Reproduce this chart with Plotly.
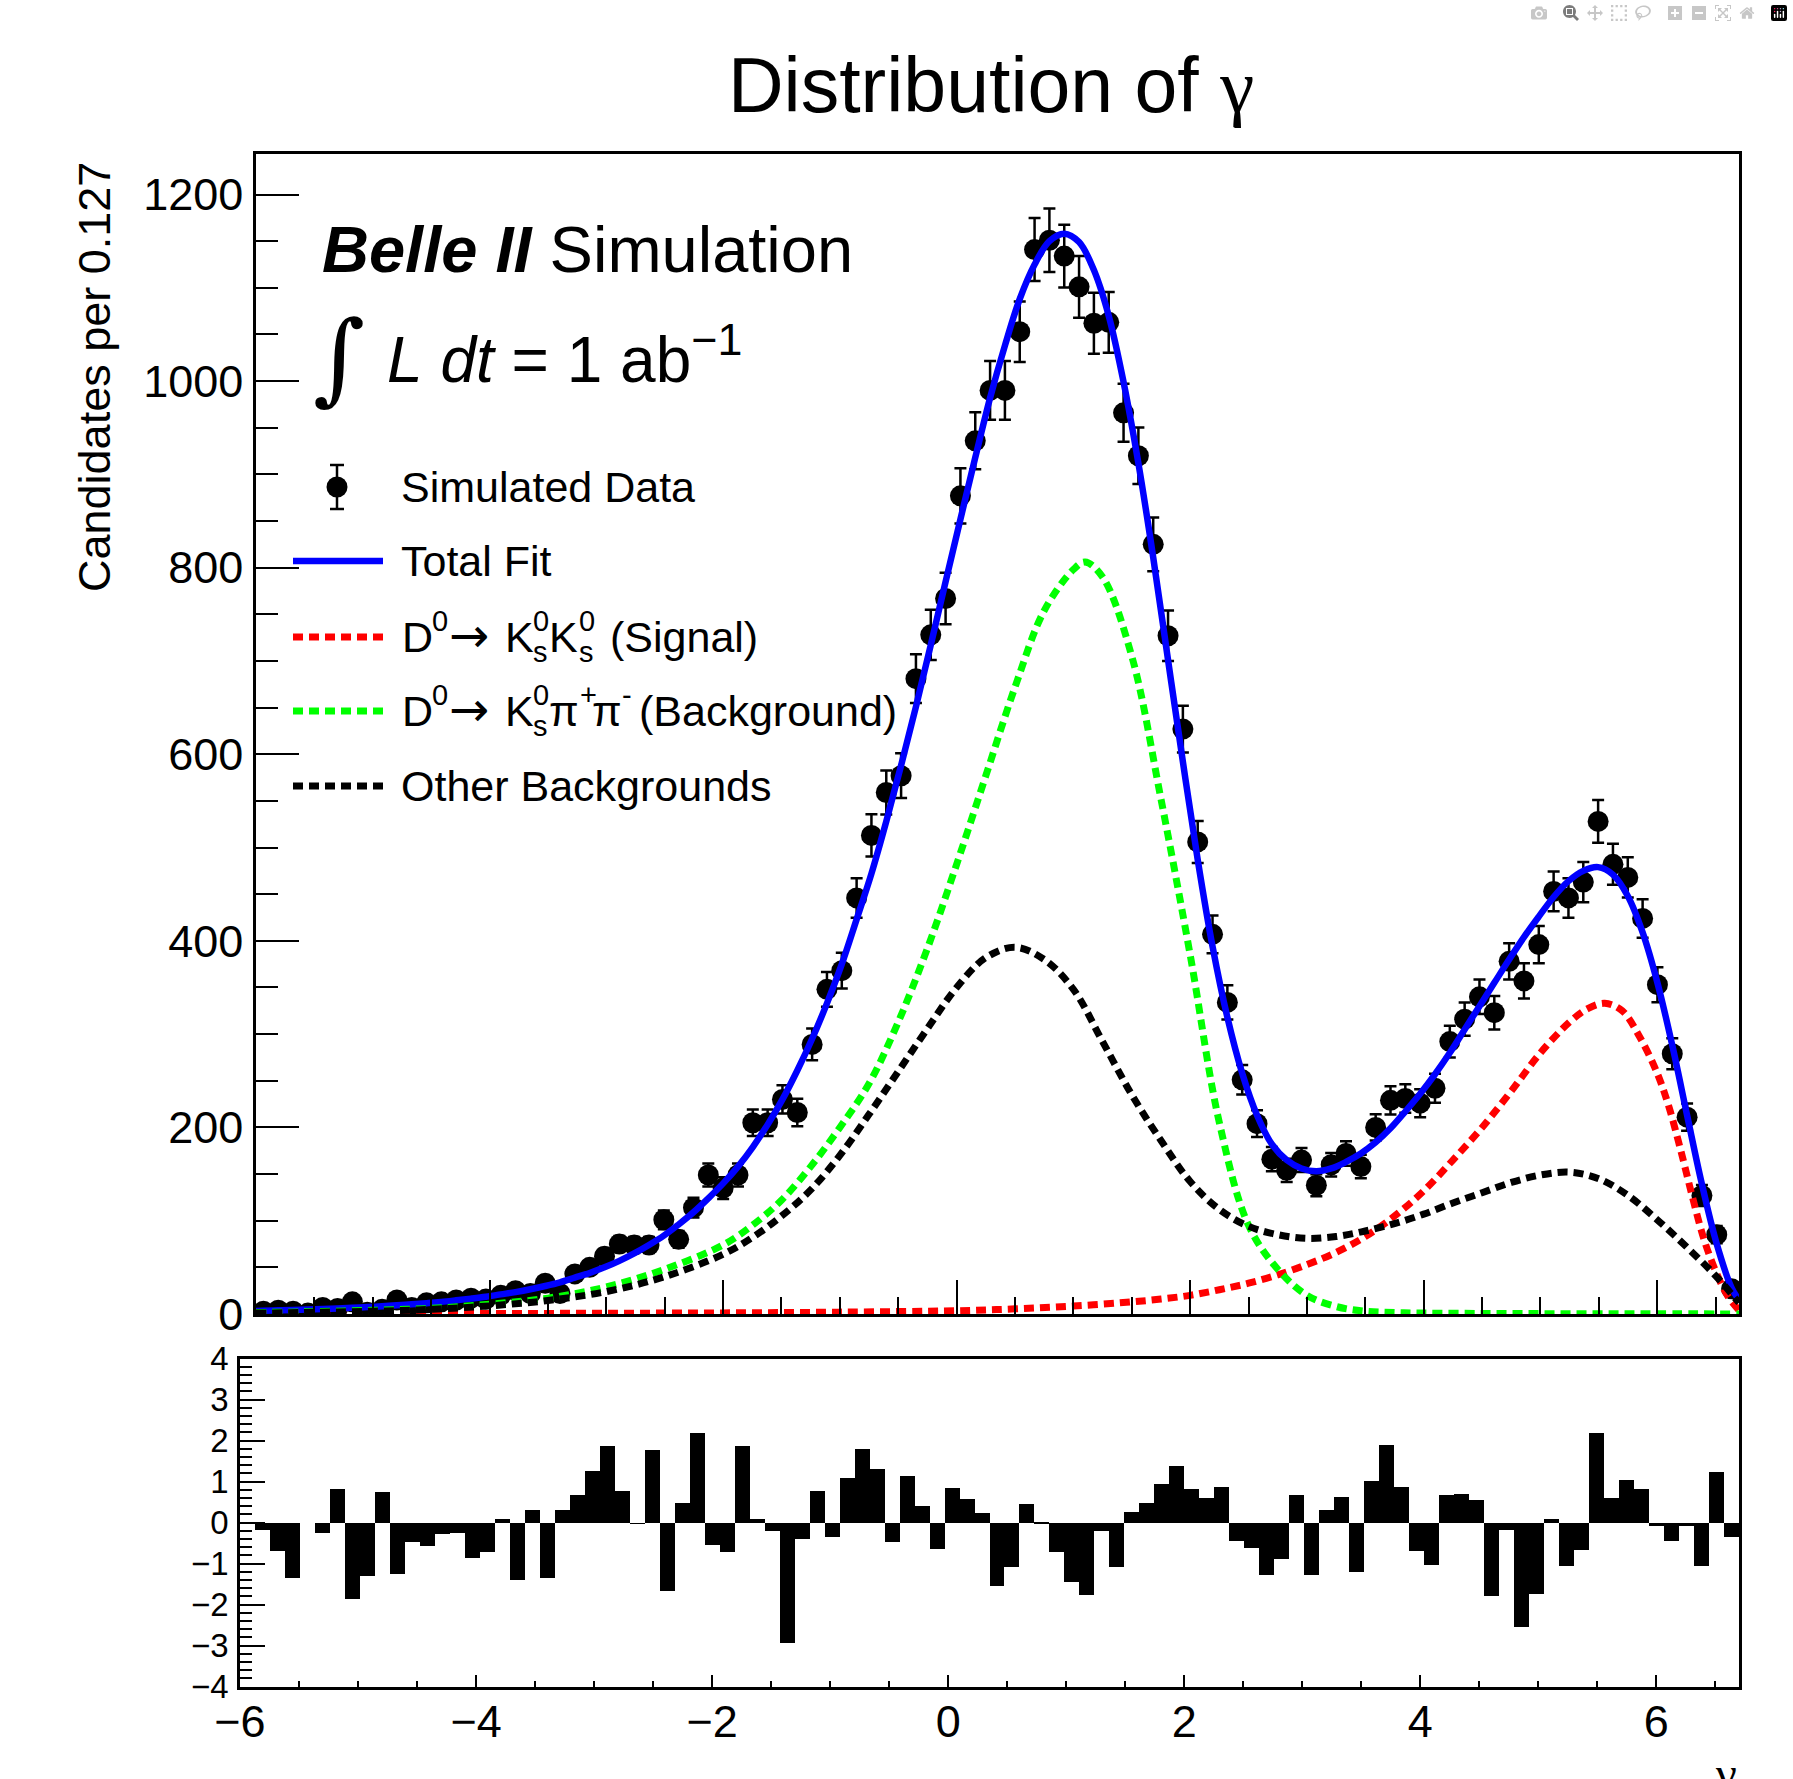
import numpy as np
import plotly.graph_objects as go

W, H = 1793, 1779
X_LO, X_HI = -6.0, 6.7
BIN_W = 0.127

# ---- data ----
data_counts = [3, 4, 3, 1, 7, 6, 13, 2, 5, 15,
               7, 12, 13, 15, 17, 16, 20, 25, 22, 33,
               22, 43, 50, 62, 75, 74, 74, 101, 80, 114,
               149, 135, 149, 205, 205, 230, 216, 289, 348, 368,
               446, 513, 559, 577, 681, 728, 767, 877, 936, 990,
               990, 1053, 1141, 1151, 1134, 1101, 1062, 1063, 966, 920,
               825, 727, 627, 506, 407, 334, 251, 204, 166, 154,
               165, 138, 160, 172, 158, 200, 229, 231, 226, 242,
               292, 316, 340, 323, 378, 357, 396, 453, 446, 463,
               528, 482, 468, 424, 353, 279, 211, 127, 85, 27]

pulls = [0.02, -0.18, -0.68, -1.34, 0.0, -0.23, 0.82, -1.86, -1.3, 0.75,
         -1.24, -0.45, -0.55, -0.26, -0.23, -0.86, -0.71, 0.1, -1.39, 0.31,
         -1.34, 0.33, 0.69, 1.28, 1.89, 0.78, -0.02, 1.78, -1.66, 0.5,
         2.19, -0.53, -0.71, 1.89, 0.09, -0.2, -2.92, -0.38, 0.78, -0.33,
         1.1, 1.8, 1.32, -0.47, 1.14, 0.42, -0.64, 0.86, 0.58, 0.25,
         -1.53, -1.08, 0.47, 0.02, -0.71, -1.44, -1.75, -0.2, -1.07, 0.27,
         0.5, 0.95, 1.38, 0.84, 0.62, 0.87, -0.44, -0.61, -1.26, -0.87,
         0.68, -1.26, 0.32, 0.63, -1.18, 1.03, 1.91, 0.87, -0.68, -1.02,
         0.68, 0.71, 0.57, -1.78, -0.17, -2.54, -1.73, 0.1, -1.04, -0.65,
         2.2, 0.6, 1.05, 0.83, -0.06, -0.44, -0.08, -1.05, 1.25, -0.33]

# total fit read at the left edge, every bin centre, and the right edge
total_fit = [3.3,
             3.5, 3.9, 4.3, 4.8, 5.3, 5.9, 6.6, 7.4, 8.3, 9.3,
             10.4, 11.6, 13, 14.7, 16.5, 18.5, 21, 23.5, 26.5, 30,
             34, 39, 44, 50, 57, 65, 74, 84, 96, 109,
             124, 140, 158, 179, 203, 230, 261, 295, 333, 375,
             423, 472, 528, 588, 651, 717, 785, 852, 918, 982,
             1038, 1088, 1125, 1150, 1158, 1149, 1119, 1070, 999, 912,
             811, 701, 592, 487, 394, 318, 258, 213, 182, 165,
             156, 153, 156, 163, 172, 184, 199, 217, 236, 257,
             280, 305, 330, 355, 380, 404, 426, 447, 464, 475,
             479, 471, 448, 409, 355, 288, 213, 139, 75, 28,
             15]

signal_x = [-6.0, -5.0, -4.0, -3.0, -2.0, -1.0, 0.0, 0.5, 1.0, 1.5, 1.75, 2.0, 2.25, 2.5,
            2.75, 3.0, 3.25, 3.5, 3.75, 4.0, 4.25, 4.5, 4.75, 5.0, 5.25, 5.4, 5.55, 5.7,
            5.85, 6.0, 6.1, 6.2, 6.3, 6.4, 6.5, 6.6, 6.7]
signal_y = [0.2, 0.3, 0.5, 0.8, 1.2, 2.0, 3.5, 5.5, 8.5, 13, 16, 20, 26, 33,
            42, 53, 66, 83, 105, 132, 165, 200, 239, 280, 313, 327, 333, 325,
            297, 258, 222, 176, 126, 80, 46, 20, 4]

kspipi_x = [-6.0, -5.5, -5.0, -4.5, -4.0, -3.5, -3.0, -2.5, -2.0, -1.75, -1.5, -1.25, -1.0,
            -0.75, -0.5, -0.25, 0.0, 0.25, 0.5, 0.75, 1.0, 1.1, 1.25, 1.5, 1.75, 2.0, 2.25,
            2.5, 2.75, 3.0, 3.25, 3.5, 3.75, 4.0, 4.5, 5.0, 5.5, 6.0, 6.7]
kspipi_y = [1.5, 2.5, 4, 6, 10.5, 17, 29, 48, 74, 95, 122, 158, 200,
            247, 313, 392, 482, 577, 672, 754, 798, 806, 790, 705, 552, 385, 205,
            95, 48, 20, 8, 3, 1.5, 1, 0.6, 0.4, 0.3, 0.2, 0.1]

other_x = [-6.0, -5.5, -5.0, -4.5, -4.0, -3.5, -3.0, -2.5, -2.0, -1.75, -1.5, -1.25, -1.0,
           -0.75, -0.5, -0.25, 0.0, 0.25, 0.5, 0.75, 1.0, 1.25, 1.5, 1.75, 2.0, 2.25, 2.5,
           2.75, 3.0, 3.25, 3.5, 3.75, 4.0, 4.25, 4.5, 4.75, 5.0, 5.25, 5.5, 5.75, 6.0,
           6.25, 6.5, 6.7]
other_y = [1, 1.8, 3, 5, 8.7, 14.5, 24, 40, 64, 82, 105, 133, 170,
           214, 260, 306, 350, 382, 393, 380, 348, 292, 235, 186, 142, 112, 94,
           85, 81, 83, 89, 97, 107, 119, 130, 141, 149, 152, 145, 127, 101,
           72, 41, 12]

label_data = "Simulated Data"
label_fit = "Total Fit"
label_other = "Other Backgrounds"
# legend labels with stacked sub/superscripts, written piece by piece:
# (text, kind) where kind: "n" normal, "p" superscript, "b" subscript, "a" arrow
label_signal = [("D", "n"), ("0", "p"), ("→", "a"), ("K", "n"), ("s", "b"), ("0", "p"),
                ("K", "n"), ("s", "b"), ("0", "p"), ("(Signal)", "n")]
label_kspipi = [("D", "n"), ("0", "p"), ("→", "a"), ("K", "n"), ("s", "b"), ("0", "p"),
                ("π", "n"), ("+", "p"), ("π", "n"), ("-", "p"), ("(Background)", "n")]
# left edges (px) of the pieces above, as they sit in the picture
signal_piece_x = [400, 430, 447, 503, 531, 531, 547, 577, 577, 608]
kspipi_piece_x = [400, 430, 447, 503, 531, 531, 547, 578, 590, 620, 637]

# ---- derived bin geometry ----
centers = X_LO + BIN_W * (np.arange(len(data_counts)) + 0.5)
fit_x = np.concatenate([[X_LO], centers, [X_HI]])
counts = np.array(data_counts, dtype=float)
errs = np.sqrt(counts)

FONT = "Liberation Sans"


def px(x):
    return x / W


def py(y):
    return 1 - y / H


fig = go.Figure()

fig.add_trace(go.Scatter(
    x=centers, y=counts, mode="markers",
    marker=dict(color="black", size=21, symbol="circle"),
    error_y=dict(type="data", array=errs, color="black", thickness=2.5, width=6),
    xaxis="x", yaxis="y"))

fig.add_trace(go.Scatter(
    x=fit_x, y=total_fit, mode="lines", line=dict(color="#0000ff", width=6.5, shape="spline"),
    xaxis="x", yaxis="y"))

DOT = "10px,6px"
LW = 7
fig.add_trace(go.Scatter(
    x=signal_x, y=signal_y, mode="lines",
    line=dict(color="#ff0000", width=LW, dash=DOT, shape="spline"), xaxis="x", yaxis="y"))
fig.add_trace(go.Scatter(
    x=kspipi_x, y=kspipi_y, mode="lines",
    line=dict(color="#00ff00", width=LW, dash=DOT, shape="spline"), xaxis="x", yaxis="y"))
fig.add_trace(go.Scatter(
    x=other_x, y=other_y, mode="lines",
    line=dict(color="#000000", width=LW, dash=DOT, shape="spline"), xaxis="x", yaxis="y"))

fig.add_trace(go.Bar(
    x=centers, y=pulls, width=BIN_W, marker=dict(color="black", line=dict(width=0)),
    xaxis="x2", yaxis="y2"))

# panel geometry (pixels)
MAIN_L, MAIN_R, MAIN_T, MAIN_B = 256, 1739, 154.4, 1314
RES_L, RES_R, RES_T, RES_B = 240, 1739, 1358.5, 1686.7

axis_common = dict(showline=True, linecolor="black", linewidth=2.5, mirror=True,
                   showgrid=False, zeroline=False, ticks="inside", tickcolor="black",
                   tickwidth=2, automargin=False,
                   tickfont=dict(family=FONT, size=45, color="black"))

fig.update_layout(
    width=W, height=H, autosize=False,
    margin=dict(l=0, r=0, t=0, b=0, pad=0, autoexpand=False),
    paper_bgcolor="white", plot_bgcolor="white",
    showlegend=False, bargap=0,
    xaxis=dict(domain=[px(MAIN_L), px(MAIN_R)], range=[X_LO, X_HI], anchor="y",
               showticklabels=False, tick0=0, dtick=2, ticklen=34,
               minor=dict(dtick=0.5, ticklen=17, ticks="inside", tickcolor="black", tickwidth=2),
               **axis_common),
    yaxis=dict(domain=[py(MAIN_B), py(MAIN_T)], range=[0, 1243], anchor="x",
               tick0=0, dtick=200, ticklen=43, ticklabelstandoff=1,
               minor=dict(dtick=50, ticklen=22, ticks="inside", tickcolor="black", tickwidth=2),
               **axis_common),
    xaxis2=dict(domain=[px(RES_L), px(RES_R)], range=[X_LO, X_HI], anchor="y2",
                tick0=0, dtick=2, ticklen=12, ticklabelstandoff=-6,
                minor=dict(dtick=0.5, ticklen=6, ticks="inside", tickcolor="black", tickwidth=2),
                **axis_common),
    yaxis2=dict(domain=[py(RES_B), py(RES_T)], range=[-4, 4], anchor="x2",
                tick0=0, dtick=1, ticklen=25, ticklabelstandoff=2,
                minor=dict(dtick=0.2, ticklen=12, ticks="inside", tickcolor="black", tickwidth=2),
                **{**axis_common, "tickfont": dict(family=FONT, size=33, color="black")}),
)

ann = []


def text(x, y, s, size, xanchor="left", yanchor="middle", angle=0, family=FONT):
    ann.append(dict(x=px(x), y=py(y), xref="paper", yref="paper", text=s, showarrow=False,
                    xanchor=xanchor, yanchor=yanchor, textangle=angle,
                    font=dict(family=family, size=size, color="black")))


GAMMA = "<span style=\"font-family:Liberation Serif\">γ</span>"
text(991, 85, "Distribution of " + GAMMA, 77, xanchor="center")
text(94, 160, "Candidates per 0.127", 45, xanchor="center", yanchor="top", angle=-90)
text(1739, 1745, GAMMA, 47, xanchor="right", yanchor="top")
text(320, 250, "<b><i>Belle II</i></b> Simulation", 65)
text(311, 357, "∫", 100, family="DejaVu Serif")
text(385, 355, "<i>L</i> <i>dt</i> = 1 ab<sup>−1</sup>", 64)

LEG_FS = 43
leg_y = [487, 561, 637, 711, 786]
text(399, leg_y[0], label_data, LEG_FS)
text(399, leg_y[1], label_fit, LEG_FS)
text(399, leg_y[4], label_other, LEG_FS)


def piece_label(pieces, xs, center_y):
    base = center_y + 0.3465 * LEG_FS
    for (s, kind), x0 in zip(pieces, xs):
        if kind == "n":
            size, b, fam = LEG_FS, base, FONT
        elif kind == "p":
            size, b, fam = 29, base - 20.5, FONT
        elif kind == "b":
            size, b, fam = 29, base + 10, FONT
        else:
            size, b, fam = 48, base, "DejaVu Sans"
        text(x0, b - 0.3465 * size, s, size, family=fam)


piece_label(label_signal, signal_piece_x, leg_y[2])
piece_label(label_kspipi, kspipi_piece_x, leg_y[3])

shapes = []
# legend: data marker with error bar
mx, my = 337, leg_y[0]
shapes.append(dict(type="line", xref="paper", yref="paper", x0=px(mx), x1=px(mx),
                   y0=py(my - 22), y1=py(my + 22), line=dict(color="black", width=2.5)))
for dy in (-22, 22):
    shapes.append(dict(type="line", xref="paper", yref="paper", x0=px(mx - 7), x1=px(mx + 7),
                       y0=py(my + dy), y1=py(my + dy), line=dict(color="black", width=2.5)))
shapes.append(dict(type="circle", xref="paper", yref="paper", x0=px(mx - 10.5), x1=px(mx + 10.5),
                   y0=py(my - 10.5), y1=py(my + 10.5), fillcolor="black", line=dict(width=0)))
# legend lines
line_styles = [("#0000ff", "solid", 6.5), ("#ff0000", DOT, LW), ("#00ff00", DOT, LW),
               ("#000000", DOT, LW)]
for (col, dash, w), yy in zip(line_styles, leg_y[1:]):
    shapes.append(dict(type="line", xref="paper", yref="paper", x0=px(293), x1=px(383),
                       y0=py(yy), y1=py(yy), line=dict(color=col, width=w, dash=dash)))

fig.update_layout(annotations=ann, shapes=shapes)

fig.write_html("out.html", post_script="document.body.style.margin='0';")
